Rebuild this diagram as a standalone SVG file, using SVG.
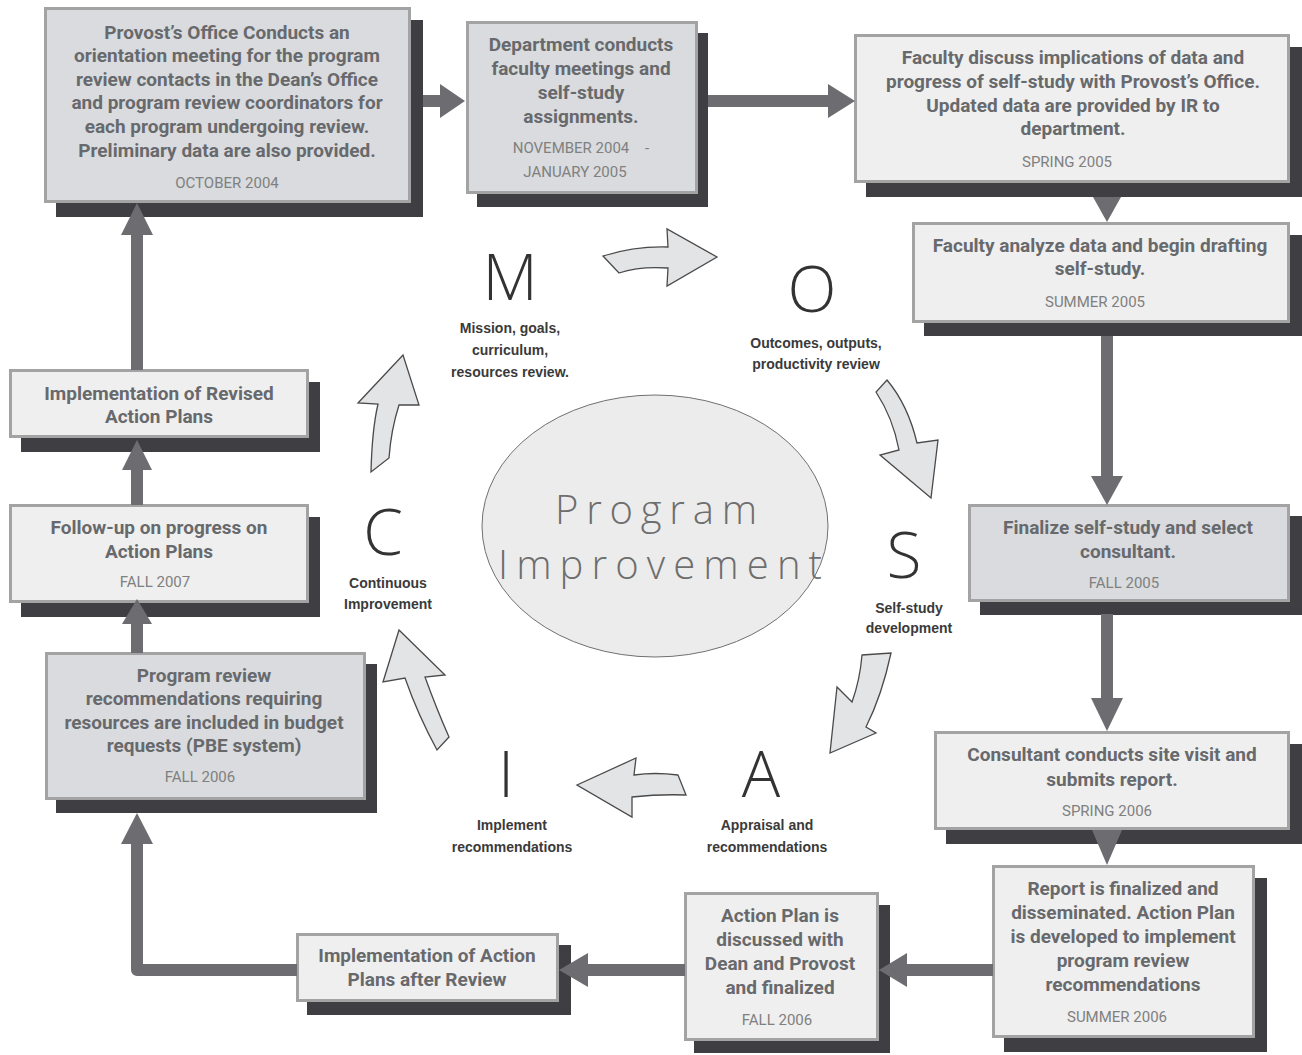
<svg xmlns="http://www.w3.org/2000/svg" width="1302" height="1055" viewBox="0 0 1302 1055">
<style>
.sh{fill:#3f3f43}
.bx{stroke:#a3a3a3;stroke-width:3}
.dk{fill:#d9dbde}
.lt{fill:#efefef}
.t{font-family:Roboto,"Liberation Sans",sans-serif;font-weight:bold;font-size:19px;fill:#67696c;text-anchor:middle}
.d{font-family:Roboto,"Liberation Sans",sans-serif;font-size:15px;fill:#808080;text-anchor:middle}
.big{font-family:"Open Sans","Liberation Sans",sans-serif;font-weight:300;font-size:64px;fill:#333;text-anchor:middle}
.lb{font-family:"Liberation Sans",Arial,sans-serif;font-weight:bold;font-size:14px;fill:#3a3a3a;text-anchor:middle}
.pi{font-family:"Open Sans","Liberation Sans",sans-serif;font-weight:300;font-size:40px;fill:#6e6e6e}
.ca{fill:#e3e4e6;stroke:#4a4a4a;stroke-width:1.3;stroke-linejoin:miter}
.st{stroke:#6d6d71;stroke-width:12;fill:none}
.hd{fill:#6d6d71}
</style>
<rect width="1302" height="1055" fill="#ffffff"/>

<g id="center">
<ellipse cx="655" cy="526" rx="173" ry="131" fill="#ececec" stroke="#707070" stroke-width="1"/>
<text class="pi" x="555" y="524" textLength="202" lengthAdjust="spacing">Program</text>
<text class="pi" x="498" y="579" textLength="324" lengthAdjust="spacing">Improvement</text>
</g>

<g id="cycle">
<path class="ca" d="M603,256 Q635,246 668,247 L667,229 L717,257 L667,286 L668,268 Q640,266 619,273 Z"/>
<path class="ca" d="M887,380 Q908,405 917,443 L938,440 L931,498 L880,455 L899,450 Q893,418 876,392 Z"/>
<path class="ca" d="M862,655 L891,653 Q882,695 866,727 L876,733 L830,753 L837,687 L852,702 Q860,680 862,655 Z"/>
<path class="ca" d="M686,795 L678,775 Q655,772 634,775 L636,758 L577,785 L632,817 L632,797 Q660,794 686,795 Z"/>
<path class="ca" d="M437,750 Q418,715 405,678 L383,682 L399,630 L445,675 L425,677 Q437,710 449,737 Z"/>
<path class="ca" d="M371,472 Q372,430 378,404 L358,403 L403,355 L419,405 L399,405 Q391,430 389,458 Z"/>
</g>

<g id="stage-M">
<text class="big" x="510" y="300">M</text>
<text class="lb" x="510" y="333">Mission, goals,</text>
<text class="lb" x="510" y="355">curriculum,</text>
<text class="lb" x="510" y="377">resources review.</text>
</g>
<g id="stage-O">
<text class="big" x="812" y="312">O</text>
<text class="lb" x="816" y="348">Outcomes, outputs,</text>
<text class="lb" x="816" y="369">productivity review</text>
</g>
<g id="stage-S">
<text class="big" x="904" y="578">S</text>
<text class="lb" x="909" y="613">Self-study</text>
<text class="lb" x="909" y="633">development</text>
</g>
<g id="stage-A">
<text class="big" x="761" y="797">A</text>
<text class="lb" x="767" y="830">Appraisal and</text>
<text class="lb" x="767" y="852">recommendations</text>
</g>
<g id="stage-I">
<text class="big" x="506" y="797">I</text>
<text class="lb" x="512" y="830">Implement</text>
<text class="lb" x="512" y="852">recommendations</text>
</g>
<g id="stage-C">
<text class="big" x="383" y="555">C</text>
<text class="lb" x="388" y="588">Continuous</text>
<text class="lb" x="388" y="609">Improvement</text>
</g>

<g id="node-orientation">
<rect class="sh" x="56" y="20" width="367" height="197"/>
<rect class="bx dk" x="45.5" y="8.5" width="364" height="193"/>
<text class="t" x="227" y="39">Provost’s Office Conducts an</text>
<text class="t" x="227" y="62">orientation meeting for the program</text>
<text class="t" x="227" y="86">review contacts in the Dean’s Office</text>
<text class="t" x="227" y="109">and program review coordinators for</text>
<text class="t" x="227" y="133">each program undergoing review.</text>
<text class="t" x="227" y="157">Preliminary data are also provided.</text>
<text class="d" x="227" y="188">OCTOBER 2004</text>
</g>

<g id="node-department">
<rect class="sh" x="477" y="33" width="231" height="174"/>
<rect class="bx dk" x="467.5" y="22.5" width="229" height="170"/>
<text class="t" x="581" y="51">Department conducts</text>
<text class="t" x="581" y="75">faculty meetings and</text>
<text class="t" x="581" y="99">self-study</text>
<text class="t" x="581" y="123">assignments.</text>
<text class="d" x="571" y="153">NOVEMBER 2004</text>
<text class="d" x="647" y="153">-</text>
<text class="d" x="575" y="177">JANUARY 2005</text>
</g>

<g id="node-faculty-discuss">
<rect class="sh" x="866" y="47" width="436" height="150"/>
<rect class="bx lt" x="855.5" y="35.5" width="433" height="146"/>
<text class="t" x="1073" y="64">Faculty discuss implications of data and</text>
<text class="t" x="1073" y="88">progress of self-study with Provost’s Office.</text>
<text class="t" x="1073" y="112">Updated data are provided by IR to</text>
<text class="t" x="1073" y="135">department.</text>
<text class="d" x="1067" y="167">SPRING 2005</text>
</g>

<g id="node-faculty-analyze">
<rect class="sh" x="924" y="235" width="378" height="101"/>
<rect class="bx lt" x="913.5" y="223.5" width="375" height="98"/>
<text class="t" x="1100" y="252">Faculty analyze data and begin drafting</text>
<text class="t" x="1100" y="275">self-study.</text>
<text class="d" x="1095" y="307">SUMMER 2005</text>
</g>

<g id="node-finalize">
<rect class="sh" x="980" y="516" width="322" height="99"/>
<rect class="bx dk" x="969.5" y="505.5" width="319" height="95"/>
<text class="t" x="1128" y="534">Finalize self-study and select</text>
<text class="t" x="1128" y="558">consultant.</text>
<text class="d" x="1124" y="588">FALL 2005</text>
</g>

<g id="node-consultant">
<rect class="sh" x="946" y="744" width="356" height="100"/>
<rect class="bx lt" x="935.5" y="732.5" width="353" height="96"/>
<text class="t" x="1112" y="761">Consultant conducts site visit and</text>
<text class="t" x="1112" y="786">submits report.</text>
<text class="d" x="1107" y="816">SPRING 2006</text>
</g>

<g id="node-report">
<rect class="sh" x="1004" y="878" width="263" height="174"/>
<rect class="bx lt" x="993.5" y="866.5" width="260" height="170"/>
<text class="t" x="1123" y="895">Report is finalized and</text>
<text class="t" x="1123" y="919">disseminated. Action Plan</text>
<text class="t" x="1123" y="943">is developed to implement</text>
<text class="t" x="1123" y="967">program review</text>
<text class="t" x="1123" y="991">recommendations</text>
<text class="d" x="1117" y="1022">SUMMER 2006</text>
</g>

<g id="node-action-plan">
<rect class="sh" x="694" y="905" width="196" height="148"/>
<rect class="bx lt" x="685.5" y="893.5" width="192" height="146"/>
<text class="t" x="780" y="922">Action Plan is</text>
<text class="t" x="780" y="946">discussed with</text>
<text class="t" x="780" y="970">Dean and Provost</text>
<text class="t" x="780" y="994">and finalized</text>
<text class="d" x="777" y="1025">FALL 2006</text>
</g>

<g id="node-implementation">
<rect class="sh" x="307" y="945" width="264" height="70"/>
<rect class="bx lt" x="297.5" y="934.5" width="260" height="66"/>
<text class="t" x="427" y="962">Implementation of Action</text>
<text class="t" x="427" y="986">Plans after Review</text>
</g>

<g id="node-budget">
<rect class="sh" x="56" y="664" width="321" height="149"/>
<rect class="bx dk" x="46.5" y="653.5" width="318" height="145"/>
<text class="t" x="204" y="682">Program review</text>
<text class="t" x="204" y="705">recommendations requiring</text>
<text class="t" x="204" y="729">resources are included in budget</text>
<text class="t" x="204" y="752">requests (PBE system)</text>
<text class="d" x="200" y="782">FALL 2006</text>
</g>

<g id="node-followup">
<rect class="sh" x="21" y="517" width="299" height="100"/>
<rect class="bx lt" x="10.5" y="505.5" width="297" height="96"/>
<text class="t" x="159" y="534">Follow-up on progress on</text>
<text class="t" x="159" y="558">Action Plans</text>
<text class="d" x="155" y="587">FALL 2007</text>
</g>

<g id="node-revised">
<rect class="sh" x="21" y="382" width="299" height="70"/>
<rect class="bx lt" x="10.5" y="370.5" width="297" height="66"/>
<text class="t" x="159" y="400">Implementation of Revised</text>
<text class="t" x="159" y="423">Action Plans</text>
</g>

<g id="connectors">
<line class="st" x1="423" y1="101" x2="442" y2="101"/>
<polygon class="hd" points="440,84 465,101 440,118"/>
<line class="st" x1="708" y1="101" x2="830" y2="101"/>
<polygon class="hd" points="828,84 855,101 828,118"/>
<polygon class="hd" points="1093,197 1121,197 1107,222"/>
<line class="st" x1="1107" y1="336" x2="1107" y2="478"/>
<polygon class="hd" points="1091,476 1123,476 1107,505"/>
<line class="st" x1="1107" y1="614" x2="1107" y2="700"/>
<polygon class="hd" points="1091,698 1123,698 1107,731"/>
<polygon class="hd" points="1092,830 1122,830 1107,865"/>
<line class="st" x1="993" y1="970" x2="905" y2="970"/>
<polygon class="hd" points="907,953 907,987 879,970"/>
<line class="st" x1="685" y1="970" x2="585" y2="970"/>
<polygon class="hd" points="588,953 588,987 559,970"/>
<polyline class="st" points="297,970 137,970 137,842" stroke-linejoin="round"/>
<polygon class="hd" points="121,844 153,844 137,813"/>
<line class="st" x1="137" y1="653" x2="137" y2="620"/>
<polygon class="hd" points="122,624 152,624 137,599"/>
<line class="st" x1="137" y1="505" x2="137" y2="468"/>
<polygon class="hd" points="122,470 152,470 137,440"/>
<line class="st" x1="137" y1="370" x2="137" y2="232"/>
<polygon class="hd" points="121,235 153,235 137,203"/>
</g>
</svg>
